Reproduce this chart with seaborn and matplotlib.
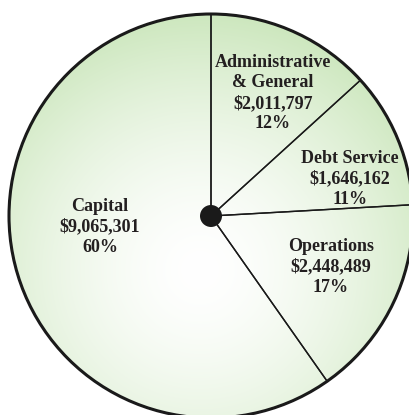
import numpy as np
import matplotlib
matplotlib.use("Agg")
import matplotlib.pyplot as plt
import seaborn as sns
from matplotlib.patches import Circle

# Data
categories = ["Administrative\n& General", "Debt Service", "Operations", "Capital"]
amounts = [2011797, 1646162, 2448489, 9065301]
amount_labels = ["$2,011,797", "$1,646,162", "$2,448,489", "$9,065,301"]
pct_labels = ["12%", "11%", "17%", "60%"]

sns.set_style("white")
plt.rcParams['font.family'] = ['Liberation Serif', 'DejaVu Serif']

W, H = 410, 415
fig = plt.figure(figsize=(W / 100, H / 100), dpi=100)
ax = fig.add_axes([0, 0, 1, 1])
ax.set_xlim(0, W)
ax.set_ylim(0, H)
ax.axis('off')

cx, cy, r = 211, H - 216, 202

# gradient fill clipped to circle
xs = np.linspace(0, W, 400)
ys = np.linspace(0, H, 400)
X, Y = np.meshgrid(xs, ys)
gx, gy = 200, H - 270
d = np.sqrt((X - gx) ** 2 + (Y - gy) ** 2) / 290.0
d = np.clip(d, 0, 1) ** 1.6
white = np.array([1.0, 1.0, 1.0])
green = np.array([194, 226, 176]) / 255.0
img = white[None, None, :] * (1 - d[..., None]) + green[None, None, :] * d[..., None]
clip = Circle((cx, cy), r, transform=ax.transData, facecolor='none', edgecolor='none')
ax.add_patch(clip)
im = ax.imshow(img, extent=(0, W, 0, H), origin='lower', zorder=1, interpolation='bilinear')
im.set_clip_path(clip)

wedges, _ = ax.pie(amounts, startangle=90, counterclock=False, center=(cx, cy), radius=r,
                   wedgeprops=dict(facecolor='none', edgecolor='#1a1a1a', linewidth=1.0),
                   frame=True)
for w in wedges:
    w.set_zorder(2)
ax.add_patch(Circle((cx, cy), r, facecolor='none', edgecolor='#1a1a1a', linewidth=2.2, zorder=3))
ax.add_patch(Circle((cx, cy), 11, facecolor='#1a1a1a', edgecolor='none', zorder=4))

ax.set_xlim(0, W)
ax.set_ylim(0, H)
ax.set_aspect('equal')
ax.axis('off')

positions = [(273, H - 93), (350, H - 179), (331, H - 267), (100, H - 227)]
for (x, y), c, a, p in zip(positions, categories, amount_labels, pct_labels):
    ax.text(x, y, f"{c}\n{a}\n{p}", ha='center', va='center', fontsize=13,
            fontweight='bold', color='#231f20', linespacing=1.28, zorder=5)

fig.savefig("out.png", dpi=100)
